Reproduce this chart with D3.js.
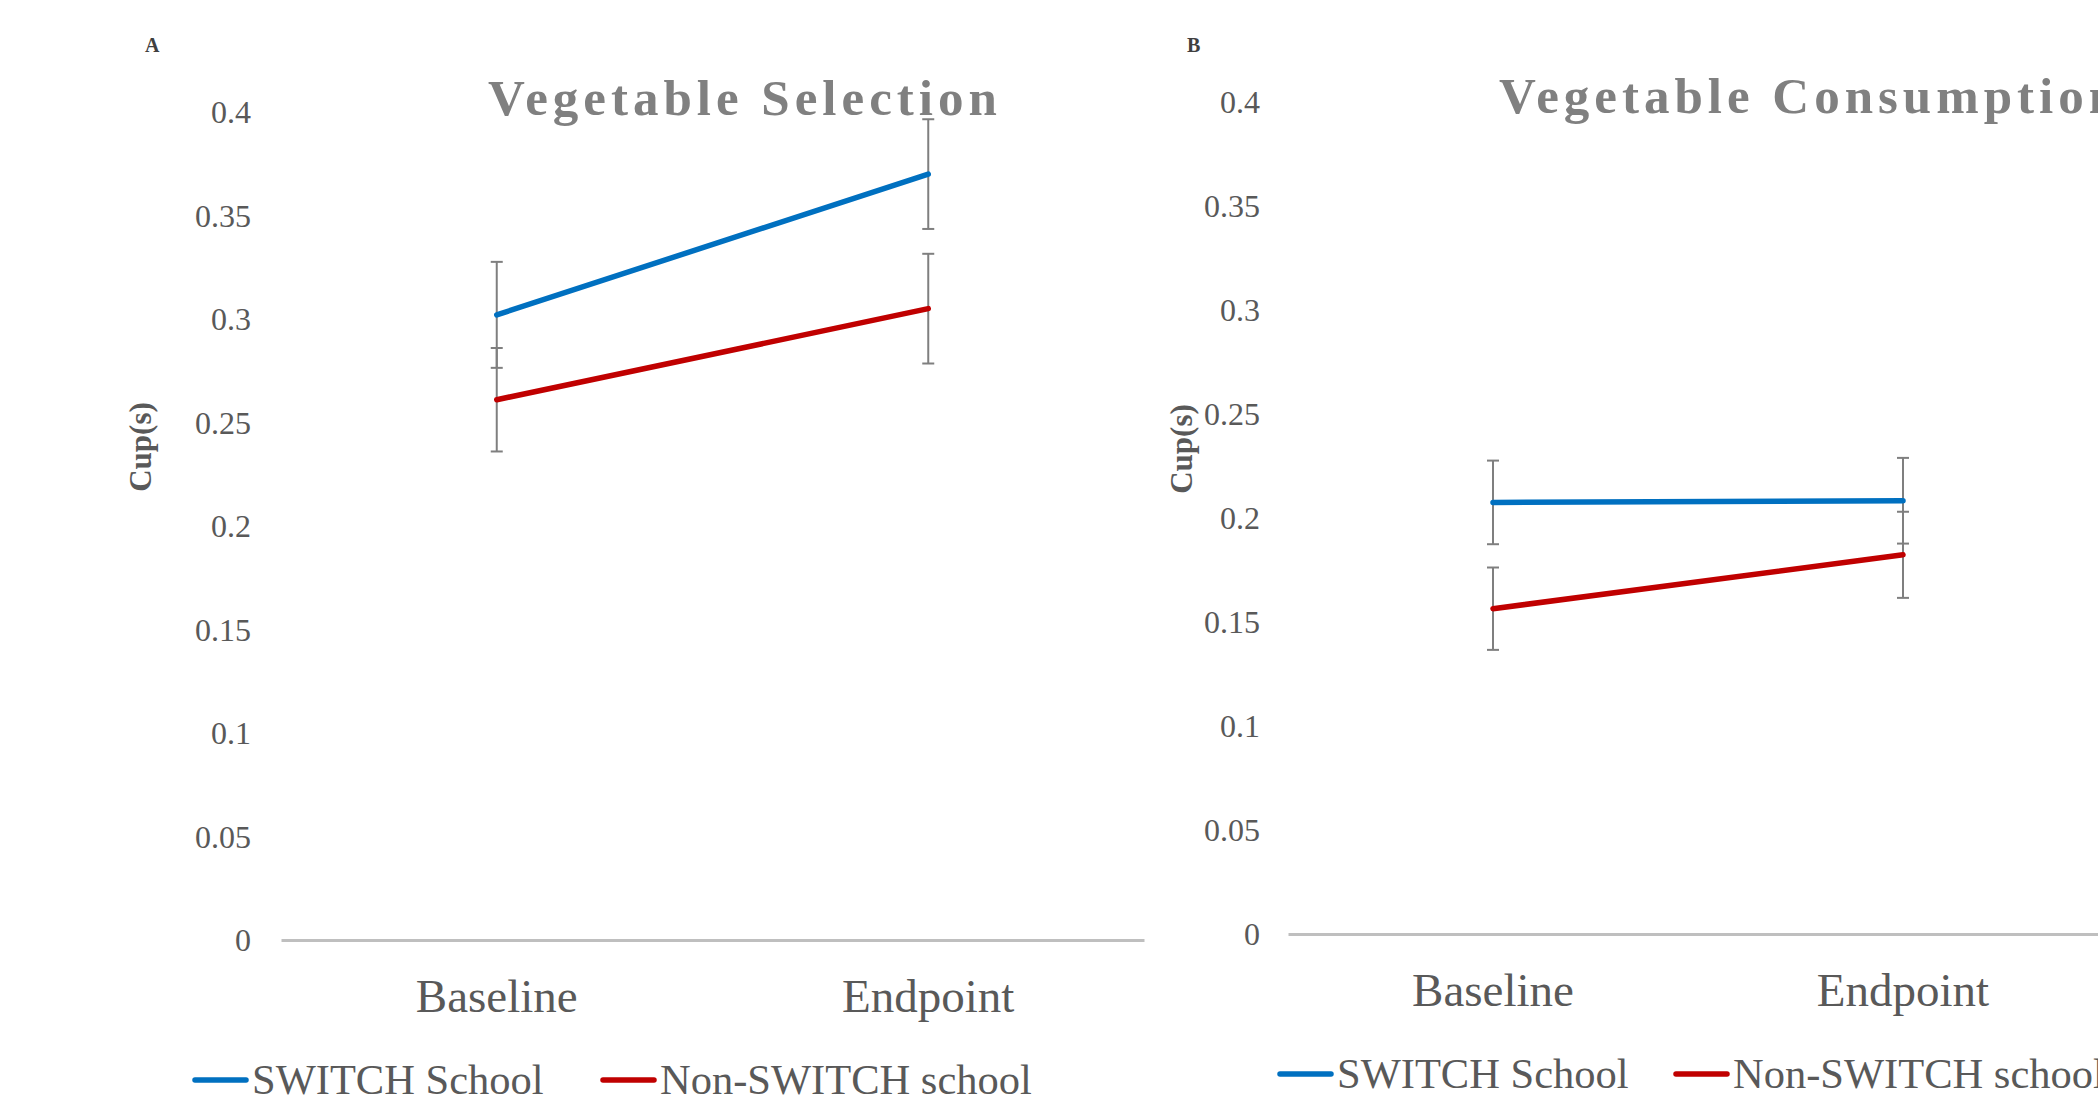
<!DOCTYPE html>
<html>
<head>
<meta charset="utf-8">
<script src="https://cdn.jsdelivr.net/npm/d3@7"></script>
<style>
  html, body { margin: 0; padding: 0; background: #fff; overflow: hidden; }
  svg { display: block; }
  text { font-family: "Liberation Serif", "Times New Roman", serif; }
</style>
</head>
<body>
<svg id="chart" width="2098" height="1098"></svg>
<script>
// ---------- data ----------
const categories = ["Baseline", "Endpoint"];
const seriesNames = ["SWITCH School", "Non-SWITCH school"];
const yTicks = [0, 0.05, 0.1, 0.15, 0.2, 0.25, 0.3, 0.35, 0.4];

// Panel A: Vegetable Selection
const selectionSwitch = [0.302, 0.370];
const selectionSwitchErr = [0.0256, 0.0265];
const selectionNon = [0.261, 0.305];
const selectionNonErr = [0.025, 0.0265];

// Panel B: Vegetable Consumption
const consumptionSwitch = [0.2075, 0.2083];
const consumptionSwitchErr = [0.0201, 0.0206];
const consumptionNon = [0.1564, 0.1823];
const consumptionNonErr = [0.0198, 0.0207];

const titles = ["Vegetable Selection", "Vegetable Consumption"];
const panelLetters = ["A", "B"];
const yLabel = "Cup(s)";

// ---------- styles ----------
const colors = ["#0070C0", "#C00000"];
const errColor = "#7F7F7F";
const axisColor = "#BFBFBF";
const textColor = "#595959";
const titleColor = "#808080";

const svg = d3.select("#chart");

function drawPanel(cfg) {
  const g = svg.append("g");
  const x = d3.scaleBand().domain(categories).range([cfg.x0, cfg.x1]).padding(0);
  const y = d3.scaleLinear().domain([0, 0.4]).range([cfg.yBottom, cfg.yTop]);
  const cx = c => x(c) + x.bandwidth() / 2;

  // panel letter
  g.append("text")
    .attr("x", cfg.letterX).attr("y", 52)
    .attr("font-size", 20).attr("font-weight", "bold").attr("fill", "#404040")
    .text(cfg.letter);

  // title
  g.append("text")
    .attr("x", cfg.titleX).attr("y", cfg.titleY)
    .attr("font-size", 51).attr("font-weight", "bold")
    .attr("letter-spacing", "5px").attr("fill", titleColor)
    .text(cfg.title);

  // y axis (labels only)
  const yAxis = d3.axisLeft(y).tickValues(yTicks).tickSize(0).tickPadding(0)
    .tickFormat(d => String(+d.toFixed(2)));
  const ya = g.append("g").attr("transform", `translate(${cfg.tickRight},0)`).call(yAxis);
  ya.select(".domain").remove();
  ya.selectAll("text")
    .attr("font-family", "Liberation Serif, Times New Roman, serif")
    .attr("font-size", 32).attr("fill", textColor).attr("dy", "0.33em");

  // y label
  g.append("text")
    .attr("transform", `translate(${cfg.yLabelX},${cfg.yLabelY}) rotate(-90)`)
    .attr("text-anchor", "middle")
    .attr("font-size", 31).attr("font-weight", "bold").attr("fill", textColor)
    .text(yLabel);

  // x axis
  const xAxis = d3.axisBottom(x).tickSize(0).tickSizeOuter(0);
  const xa = g.append("g").attr("transform", `translate(0,${cfg.yBottom})`).call(xAxis);
  xa.select(".domain").attr("stroke", axisColor).attr("stroke-width", 3);
  xa.selectAll("text")
    .attr("font-family", "Liberation Serif, Times New Roman, serif")
    .attr("font-size", 47).attr("fill", textColor)
    .attr("y", 72).attr("dy", 0);

  // error bars
  cfg.series.forEach((s, si) => {
    const eb = g.append("g").attr("stroke", errColor).attr("stroke-width", 2);
    categories.forEach((c, i) => {
      const lo = y(s.values[i] - s.err[i]);
      const hi = y(s.values[i] + s.err[i]);
      eb.append("line").attr("x1", cx(c)).attr("x2", cx(c)).attr("y1", lo).attr("y2", hi);
      eb.append("line").attr("x1", cx(c) - 6).attr("x2", cx(c) + 6).attr("y1", lo).attr("y2", lo);
      eb.append("line").attr("x1", cx(c) - 6).attr("x2", cx(c) + 6).attr("y1", hi).attr("y2", hi);
    });
  });

  // lines
  const line = d3.line().x((d, i) => cx(categories[i])).y(d => y(d));
  cfg.series.forEach((s, si) => {
    g.append("path")
      .datum(s.values)
      .attr("d", line)
      .attr("fill", "none")
      .attr("stroke", colors[si])
      .attr("stroke-width", 5.5)
      .attr("stroke-linecap", "round")
      .attr("stroke-linejoin", "round");
  });

  // legend
  seriesNames.forEach((name, si) => {
    const lx = cfg.legendX[si];
    g.append("line")
      .attr("x1", lx + 2).attr("x2", lx + 53)
      .attr("y1", cfg.legendLineY).attr("y2", cfg.legendLineY)
      .attr("stroke", colors[si]).attr("stroke-width", 5.5).attr("stroke-linecap", "round");
    g.append("text")
      .attr("x", lx + 59).attr("y", cfg.legendTextY)
      .attr("font-size", 42.5).attr("fill", textColor)
      .text(name);
  });
}

drawPanel({
  letter: panelLetters[0], letterX: 145,
  title: titles[0], titleX: 488, titleY: 115,
  x0: 281, x1: 1144, yBottom: 940, yTop: 112,
  tickRight: 251, yLabelX: 151, yLabelY: 447,
  legendX: [193, 601], legendLineY: 1080, legendTextY: 1094,
  series: [
    { values: selectionSwitch, err: selectionSwitchErr },
    { values: selectionNon, err: selectionNonErr }
  ]
});

drawPanel({
  letter: panelLetters[1], letterX: 1187,
  title: titles[1], titleX: 1499, titleY: 113,
  x0: 1288, x1: 2108, yBottom: 934, yTop: 102,
  tickRight: 1260, yLabelX: 1192, yLabelY: 449,
  legendX: [1278, 1674], legendLineY: 1074, legendTextY: 1088,
  series: [
    { values: consumptionSwitch, err: consumptionSwitchErr },
    { values: consumptionNon, err: consumptionNonErr }
  ]
});
</script>
</body>
</html>
